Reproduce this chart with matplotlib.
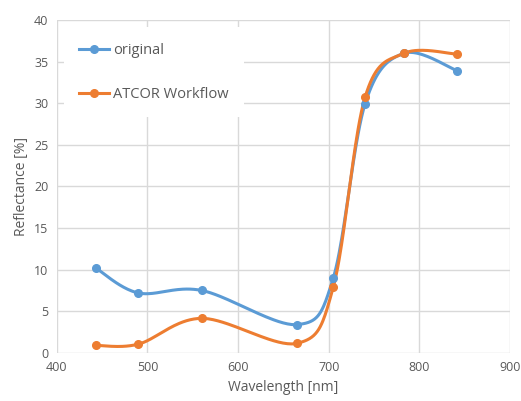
import numpy as np
import matplotlib
matplotlib.use("Agg")
import matplotlib.pyplot as plt

# Sentinel-2 band centres (nm) and reflectance (%)
wavelength = [443, 490, 560, 665, 705, 740, 783, 842]
original = [10.2, 7.2, 7.5, 3.4, 9.0, 29.9, 36.0, 33.9]
atcor = [0.9, 1.05, 4.15, 1.15, 7.9, 30.7, 36.0, 35.9]

blue = "#5b9bd5"
orange = "#ed7d31"
grey = "#595959"


def smooth(xs, ys, n=40):
    # Excel-like smoothed line: Catmull-Rom as cubic Bezier segments
    p = np.column_stack([xs, ys]).astype(float)
    p = np.vstack([p[0], p, p[-1]])
    out = []
    t = np.linspace(0, 1, n)[:, None]
    for i in range(1, len(p) - 2):
        p0, p3 = p[i], p[i + 1]
        c1 = p0 + (p[i + 1] - p[i - 1]) / 6
        c2 = p3 - (p[i + 2] - p[i]) / 6
        seg = ((1 - t) ** 3) * p0 + 3 * ((1 - t) ** 2) * t * c1 + 3 * (1 - t) * t ** 2 * c2 + t ** 3 * p3
        out.append(seg)
    out = np.vstack(out)
    return out[:, 0], out[:, 1]


plt.rcParams['font.family'] = ['Open Sans', 'DejaVu Sans']

fig = plt.figure(figsize=(5.21, 4.01), dpi=100)
ax = fig.add_axes([0.109, 0.120, 0.870, 0.830])

for ys, col, name in [(original, blue, "original"), (atcor, orange, "ATCOR Workflow")]:
    sx, sy = smooth(wavelength, ys)
    ax.plot(sx, sy, color=col, lw=2.2, zorder=3)
    ax.plot(wavelength, ys, "o", color=col, ms=5.5, zorder=4)
    ax.plot([], [], color=col, lw=2.2, marker="o", ms=5.5, label=name)

ax.set_xlim(400, 900)
ax.set_ylim(0, 40)
ax.set_xticks(range(400, 901, 100))
ax.set_yticks(range(0, 41, 5))
ax.grid(True, color="#d9d9d9", lw=1)
ax.set_axisbelow(True)
for s in ax.spines.values():
    s.set_visible(False)
ax.tick_params(length=0, colors=grey, labelsize=9, pad=6)

ax.set_xlabel("Wavelength [nm]", color=grey, fontsize=10)
ax.set_ylabel("Reflectance [%]", color=grey, fontsize=10)

leg = ax.legend(loc="upper left", frameon=True, fontsize=10.5, labelspacing=2.0,
                handlelength=2.0, handletextpad=0.3, borderpad=1.05,
                bbox_to_anchor=(0.0, 1.0), labelcolor=grey)
leg.get_frame().set_facecolor("white")
leg.get_frame().set_edgecolor("none")
leg.get_frame().set_alpha(1)
leg.get_frame().set_boxstyle("square", pad=0)

fig.savefig("out.png", dpi=100)
